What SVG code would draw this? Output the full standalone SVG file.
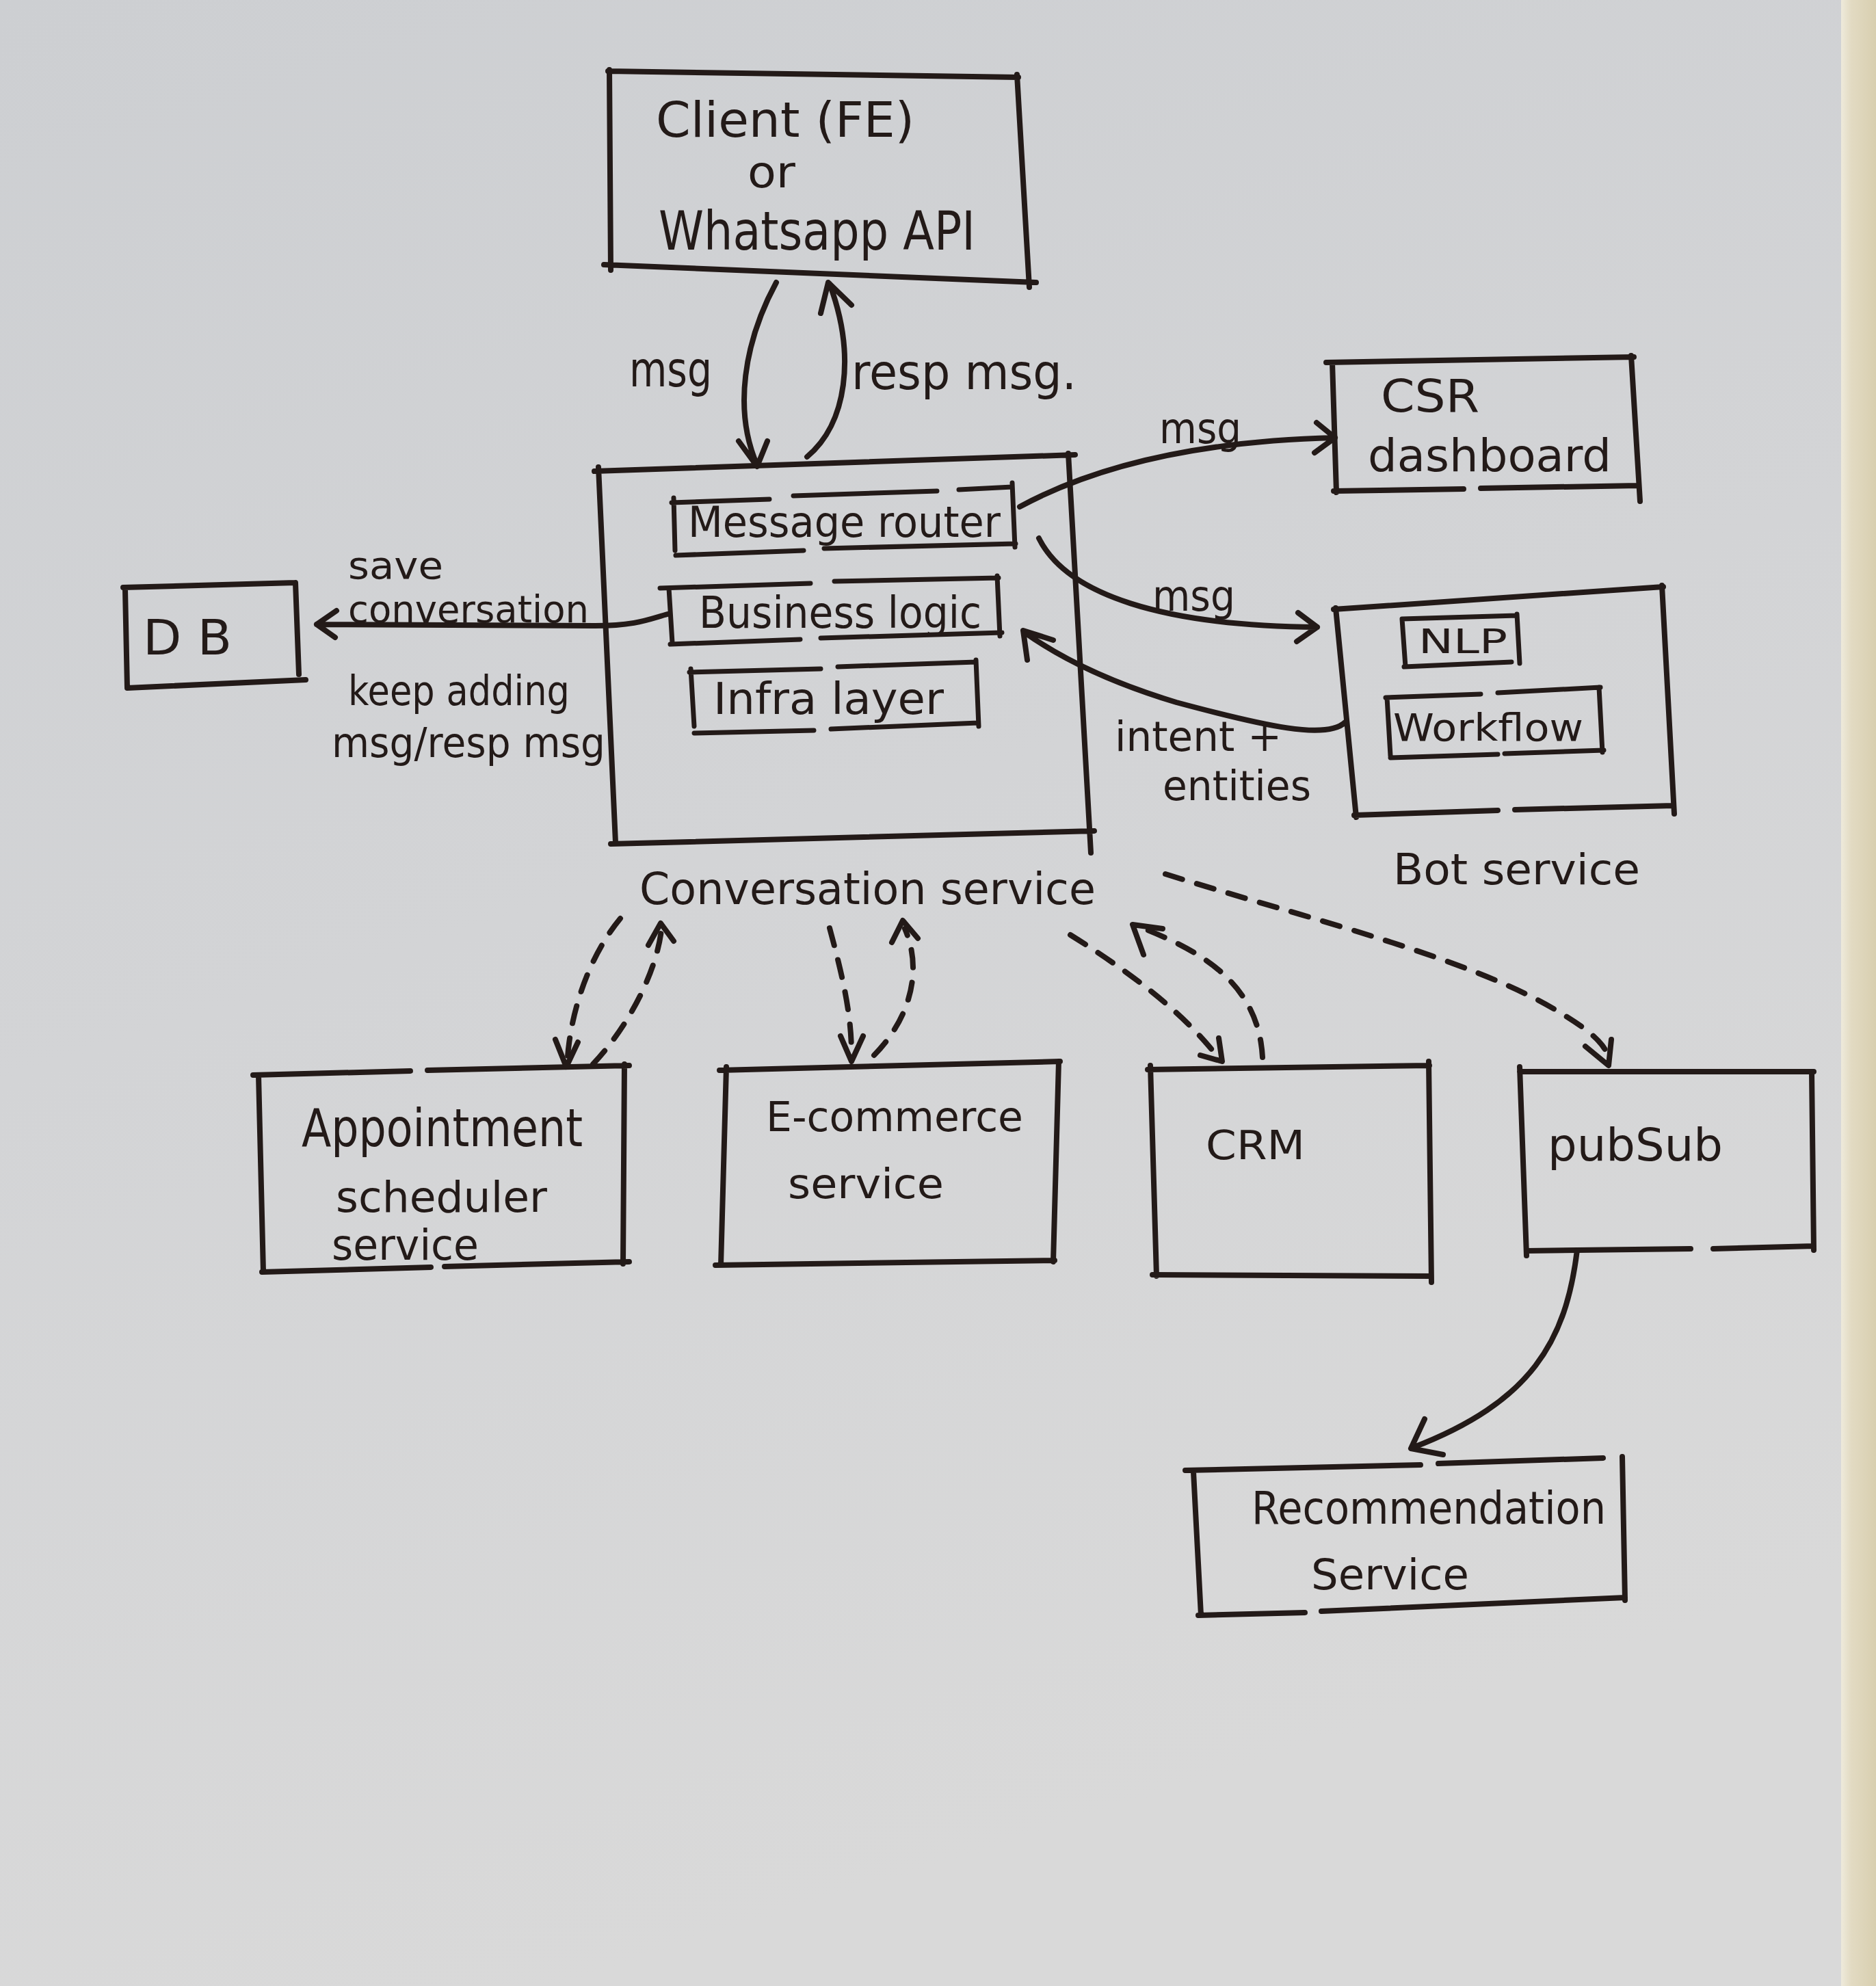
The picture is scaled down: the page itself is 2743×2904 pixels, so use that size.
<svg xmlns="http://www.w3.org/2000/svg" width="2743" height="2904" viewBox="0 0 2743 2904">
<defs>
<linearGradient id="paper" x1="0" y1="0" x2="0.3" y2="1">
<stop offset="0" stop-color="#cdcfd2"/>
<stop offset="0.5" stop-color="#d3d4d6"/>
<stop offset="1" stop-color="#d9d9d9"/>
</linearGradient>
<linearGradient id="strip" x1="0" y1="0" x2="1" y2="0">
<stop offset="0" stop-color="#eeeadb"/>
<stop offset="0.3" stop-color="#e2dac2"/>
<stop offset="1" stop-color="#d8cfb0"/>
</linearGradient>
<style>
.ink{fill:none;stroke:#231a18;stroke-width:8;stroke-linecap:round;stroke-linejoin:round}
.thin{stroke-width:7}
.dash{stroke-dasharray:26 22}
.t{font-family:"DejaVu Sans","Liberation Sans",sans-serif;fill:#231a18}
</style>
</defs>
<rect x="0" y="0" width="2743" height="2904" fill="url(#paper)"/>
<rect x="2692" y="0" width="51" height="2904" fill="url(#strip)"/>

<g id="client">
<path class="ink" d="M889,104 L1489,113 M1487,109 L1505,420 M891,102 L893,395 M883,387 L1515,413"/>
<text class="t" x="959" y="200" font-size="72" textLength="378" lengthAdjust="spacingAndGlyphs">Client (FE)</text>
<text class="t" x="1093" y="274" font-size="64" textLength="70" lengthAdjust="spacingAndGlyphs">or</text>
<text class="t" x="963" y="365" font-size="78" textLength="463" lengthAdjust="spacingAndGlyphs">Whatsapp API</text>
</g>

<g id="conversation-service">
<path class="ink" d="M869,689 L1572,665 M875,683 L900,1232 M893,1234 L1600,1215 M1562,663 L1595,1247"/>
<text class="t" x="935" y="1322" font-size="64" textLength="667" lengthAdjust="spacingAndGlyphs">Conversation service</text>
</g>

<g id="message-router">
<path class="ink thin" d="M982,735 L1125,730 M1160,725 L1370,718 M1402,716 L1480,712 M1480,706 L1484,800 M985,728 L987,805 M988,812 L1175,805 M1205,802 L1485,795"/>
<text class="t" x="1006" y="785" font-size="62" textLength="457" lengthAdjust="spacingAndGlyphs">Message router</text>
</g>

<g id="business-logic">
<path class="ink thin" d="M965,860 L1185,853 M1220,850 L1460,845 M1458,842 L1462,930 M978,860 L983,940 M980,942 L1170,935 M1200,933 L1465,925"/>
<text class="t" x="1022" y="918" font-size="64" textLength="413" lengthAdjust="spacingAndGlyphs">Business logic</text>
</g>

<g id="infra-layer">
<path class="ink thin" d="M1008,983 L1200,978 M1225,975 L1427,968 M1427,965 L1431,1062 M1010,978 L1015,1062 M1015,1072 L1190,1068 M1215,1066 L1430,1057"/>
<text class="t" x="1043" y="1044" font-size="64" textLength="337" lengthAdjust="spacingAndGlyphs">Infra layer</text>
</g>

<g id="db">
<path class="ink" d="M180,859 L432,852 M432,852 L437,986 M183,862 L186,1006 M186,1006 L447,994"/>
<text class="t" x="209" y="957" font-size="72" textLength="130" lengthAdjust="spacingAndGlyphs">D B</text>
</g>

<g id="csr-dashboard">
<path class="ink" d="M1939,530 L2389,522 M2385,520 L2398,733 M1948,530 L1954,720 M1950,718 L2140,715 M2165,714 L2395,710"/>
<text class="t" x="2019" y="602" font-size="66" textLength="144" lengthAdjust="spacingAndGlyphs">CSR</text>
<text class="t" x="2000" y="689" font-size="66" textLength="356" lengthAdjust="spacingAndGlyphs">dashboard</text>
</g>

<g id="bot-service">
<path class="ink" d="M1950,891 L2432,858 M2430,856 L2448,1190 M1953,889 L1983,1195 M1980,1192 L2190,1185 M2215,1184 L2446,1178"/>
<text class="t" x="2037" y="1293" font-size="62" textLength="361" lengthAdjust="spacingAndGlyphs">Bot service</text>
</g>

<g id="nlp">
<path class="ink thin" d="M2050,905 L2218,900 M2218,898 L2222,970 M2050,905 L2055,975 M2053,975 L2210,968"/>
<text class="t" x="2074" y="955" font-size="50" textLength="130" lengthAdjust="spacingAndGlyphs">NLP</text>
</g>

<g id="workflow">
<path class="ink thin" d="M2026,1020 L2165,1015 M2190,1013 L2340,1005 M2338,1005 L2343,1100 M2028,1020 L2033,1105 M2033,1108 L2190,1103 M2200,1102 L2345,1097"/>
<text class="t" x="2037" y="1083" font-size="56" textLength="278" lengthAdjust="spacingAndGlyphs">Workflow</text>
</g>

<g id="appointment-scheduler">
<path class="ink" d="M370,1572 L600,1566 M625,1565 L920,1558 M913,1556 L911,1848 M378,1572 L385,1860 M383,1860 L630,1853 M650,1852 L920,1845"/>
<text class="t" x="441" y="1676" font-size="76" textLength="411" lengthAdjust="spacingAndGlyphs">Appointment</text>
<text class="t" x="491" y="1772" font-size="62" textLength="309" lengthAdjust="spacingAndGlyphs">scheduler</text>
<text class="t" x="485" y="1842" font-size="62" textLength="215" lengthAdjust="spacingAndGlyphs">service</text>
</g>

<g id="e-commerce">
<path class="ink" d="M1052,1565 L1550,1552 M1548,1552 L1540,1845 M1062,1560 L1054,1850 M1046,1850 L1542,1843"/>
<text class="t" x="1120" y="1654" font-size="60" textLength="376" lengthAdjust="spacingAndGlyphs">E-commerce</text>
<text class="t" x="1152" y="1752" font-size="60" textLength="228" lengthAdjust="spacingAndGlyphs">service</text>
</g>

<g id="crm">
<path class="ink" d="M1678,1564 L2090,1558 M2089,1552 L2093,1875 M1682,1558 L1691,1866 M1685,1864 L2092,1866"/>
<text class="t" x="1763" y="1695" font-size="58" textLength="145" lengthAdjust="spacingAndGlyphs">CRM</text>
</g>

<g id="pubsub">
<path class="ink" d="M2222,1567 L2652,1567 M2649,1567 L2652,1828 M2222,1560 L2232,1836 M2232,1829 L2472,1826 M2505,1826 L2652,1822"/>
<text class="t" x="2263" y="1697" font-size="66" textLength="256" lengthAdjust="spacingAndGlyphs">pubSub</text>
</g>

<g id="recommendation-service">
<path class="ink" d="M1733,2150 L2077,2142 M2103,2140 L2344,2132 M2372,2130 L2376,2340 M1745,2152 L1756,2362 M1752,2362 L1908,2358 M1932,2356 L2376,2336"/>
<text class="t" x="1830" y="2228" font-size="66" textLength="518" lengthAdjust="spacingAndGlyphs">Recommendation</text>
<text class="t" x="1917" y="2324" font-size="62" textLength="231" lengthAdjust="spacingAndGlyphs">Service</text>
</g>

<g id="connectors">
<path class="ink" d="M1135,413 C1088,500 1072,600 1107,680 M1080,645 L1107,682 L1122,645"/>
<path class="ink" d="M1180,668 C1238,620 1252,520 1213,415 M1200,458 L1211,413 L1245,446"/>
<path class="ink" d="M1491,741 C1600,682 1750,645 1952,640 M1925,618 L1952,640 L1922,662"/>
<path class="ink" d="M1519,787 C1560,870 1700,915 1926,917 M1898,896 L1926,917 L1896,938"/>
<path class="ink" d="M1967,1056 C1940,1082 1850,1062 1720,1027 C1620,997 1550,962 1497,924 M1502,965 L1496,922 L1540,936"/>
<path class="ink" d="M976,898 C950,905 930,915 870,915 L463,913 M492,893 L463,913 L490,932"/>
<path class="ink" d="M2306,1828 C2290,1960 2240,2050 2065,2117 M2083,2075 L2063,2118 L2110,2127"/>
<path class="ink dash" d="M907,1343 C860,1400 835,1480 830,1545"/>
<path class="ink" d="M812,1520 L828,1560 L845,1524"/>
<path class="ink dash" d="M867,1556 C920,1500 960,1420 967,1360"/>
<path class="ink" d="M948,1382 L966,1350 L985,1376"/>
<path class="ink dash" d="M1213,1357 C1230,1420 1245,1480 1245,1540"/>
<path class="ink" d="M1229,1515 L1245,1552 L1262,1515"/>
<path class="ink dash" d="M1278,1543 C1330,1490 1350,1420 1323,1358"/>
<path class="ink" d="M1304,1378 L1320,1346 L1342,1372"/>
<path class="ink dash" d="M1565,1367 C1650,1420 1730,1480 1780,1545"/>
<path class="ink" d="M1755,1543 L1787,1552 L1782,1518"/>
<path class="ink dash" d="M1846,1546 C1840,1440 1760,1392 1668,1356"/>
<path class="ink" d="M1672,1396 L1656,1352 L1700,1358"/>
<path class="ink dash" d="M1704,1278 C1900,1340 2150,1400 2280,1480 C2330,1510 2350,1530 2352,1550"/>
<path class="ink" d="M2318,1530 L2352,1558 L2356,1520"/>
<text class="t" x="920" y="565" font-size="72" textLength="121" lengthAdjust="spacingAndGlyphs">msg</text>
<text class="t" x="1245" y="569" font-size="72" textLength="329" lengthAdjust="spacingAndGlyphs">resp msg.</text>
<text class="t" x="1695" y="648" font-size="62" textLength="120" lengthAdjust="spacingAndGlyphs">msg</text>
<text class="t" x="1685" y="893" font-size="62" textLength="121" lengthAdjust="spacingAndGlyphs">msg</text>
<text class="t" x="1630" y="1098" font-size="60" textLength="244" lengthAdjust="spacingAndGlyphs">intent +</text>
<text class="t" x="1700" y="1170" font-size="60" textLength="217" lengthAdjust="spacingAndGlyphs">entities</text>
<text class="t" x="509" y="846" font-size="56" textLength="139" lengthAdjust="spacingAndGlyphs">save</text>
<text class="t" x="509" y="910" font-size="56" textLength="352" lengthAdjust="spacingAndGlyphs">conversation</text>
<text class="t" x="509" y="1031" font-size="60" textLength="324" lengthAdjust="spacingAndGlyphs">keep adding</text>
<text class="t" x="485" y="1107" font-size="60" textLength="400" lengthAdjust="spacingAndGlyphs">msg/resp msg</text>
</g>
</svg>
